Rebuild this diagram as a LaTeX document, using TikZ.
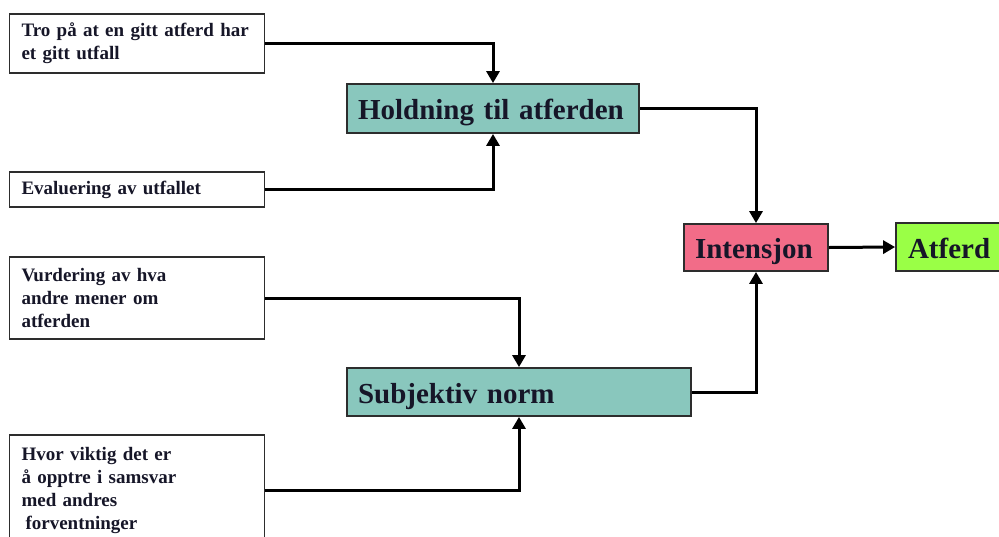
\documentclass[tikz,border=0pt]{standalone}
\usepackage{fontspec}
\setmainfont{Liberation Serif}
\usetikzlibrary{arrows.meta}
\definecolor{tealbox}{RGB}{137,199,189}
\definecolor{pinkbox}{RGB}{242,108,136}
\definecolor{greenbox}{RGB}{154,255,70}
\definecolor{ink}{RGB}{22,22,40}
\definecolor{boxline}{RGB}{45,45,45}
\tikzset{
  smallbox/.style={draw=boxline, line width=1.8pt, fill=white, inner xsep=12pt, inner ysep=0pt,
    align=left, text=ink, font=\fontsize{19}{23}\selectfont\bfseries, text width=231pt, minimum width=255pt},
  bigbox/.style={draw=boxline, line width=1.8pt, inner xsep=11pt, inner ysep=0pt,
    align=left, text=ink, font=\fontsize{29}{34}\selectfont\bfseries, text height=22pt, text depth=0pt},
  conn/.style={line width=3pt, draw=black, -{Triangle[length=12pt,width=13pt]}}
}
\begin{document}
\begin{tikzpicture}[x=1pt,y=-1pt]
\useasboundingbox (0,0) rectangle (999,536);
% left boxes
\node[smallbox, minimum height=59pt] (b1) at (137,43.5) {Tro på at en gitt atferd har\\et gitt utfall};
\node[smallbox, minimum height=35pt] (b2) at (137,189.5) {Evaluering av utfallet};
\node[smallbox, minimum height=82pt] (b3) at (137,298) {Vurdering av hva\\andre mener om\\atferden};
\node[smallbox, minimum height=110pt] (b4) at (137,490) {Hvor viktig det er\\å opptre i samsvar\\med andres\\\hspace*{4pt}forventninger};
% main boxes
\node[bigbox, fill=tealbox, text width=270pt, minimum height=49pt] (hold) at (493,108.5) {Holdning til atferden};
\node[bigbox, fill=tealbox, text width=322pt, minimum height=48pt] (subj) at (519,392) {Subjektiv norm};
\node[bigbox, fill=pinkbox, text width=122pt, minimum height=47pt] (int) at (756,247.5) {Intensjon};
\node[bigbox, fill=greenbox, inner xsep=12pt, text width=90pt, minimum height=48pt] (atf) at (953,247) {Atferd};
% connectors
\draw[conn] (b1.east) -| (hold.north);
\draw[conn] (b2.east) -| (hold.south);
\draw[conn] (b3.east) -| (subj.north);
\draw[conn] (b4.east) -| (subj.south);
\draw[conn] (hold.east) -| (int.north);
\draw[conn] (subj.east) -| (int.south);
\draw[conn] (int.east) -- (atf.west);
\end{tikzpicture}
\end{document}
